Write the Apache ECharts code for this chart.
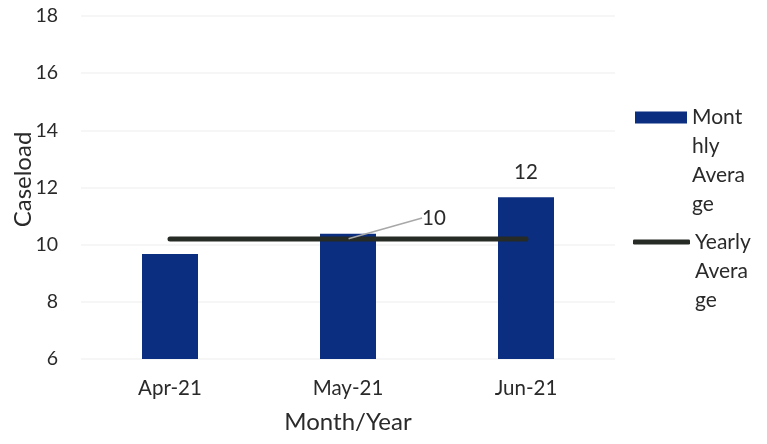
<!DOCTYPE html>
<html><head><meta charset="utf-8">
<script src="https://cdn.jsdelivr.net/npm/echarts@6/dist/echarts.min.js"></script>
<style>html,body{margin:0;padding:0;background:#fff}#c{width:767px;height:444px}</style>
</head><body><div id="c"></div>
<script>
const categories = ['Apr-21', 'May-21', 'Jun-21'];
const monthlyAverage = [9.67, 10.38, 11.66];
const yearlyAverage = [10.2, 10.2, 10.2];
const yTicks = [6, 8, 10, 12, 14, 16, 18];

const FONT = 'Lato';
const TXT = '#2a2a2a';
const chart = echarts.init(document.getElementById('c'));
chart.setOption({
  animation: false,
  textStyle: {fontFamily: FONT},
  grid: {left: 81, right: 152, top: 16, bottom: 85, containLabel: false, outerBoundsMode: 'none'},
  legend: [{
    left: 635, top: 16, padding: 0, orient: 'vertical',
    itemWidth: 52, itemHeight: 12,
    data: [{name: 'Monthly Average', icon: 'rect'}],
    formatter: () => '\n\n\nMont\nhly\nAvera\nge',
    textStyle: {fontFamily: FONT, fontSize: 21, color: TXT, lineHeight: 29}
  }, {
    left: 633, top: 169.5, padding: 0, orient: 'vertical',
    itemWidth: 57, itemHeight: 5,
    data: [{name: 'Yearly Average', icon: 'roundRect'}],
    formatter: () => '\n\nYearly\nAvera\nge',
    textStyle: {fontFamily: FONT, fontSize: 21, color: TXT, lineHeight: 29}
  }],
  xAxis: {
    type: 'category', data: categories,
    axisLine: {show: false}, axisTick: {show: false},
    axisLabel: {fontSize: 20.5, color: TXT, margin: 19, fontFamily: FONT},
    name: 'Month/Year', nameLocation: 'middle', nameGap: 51, nameMoveOverlap: false,
    nameTextStyle: {fontSize: 24, color: TXT, fontFamily: FONT}
  },
  yAxis: {
    type: 'value', min: yTicks[0], max: yTicks[yTicks.length - 1], interval: 2,
    axisLine: {show: false}, axisTick: {show: false},
    splitLine: {lineStyle: {color: '#f3f3f3', width: 1.5}},
    axisLabel: {fontSize: 19.5, color: TXT, margin: 23, fontFamily: FONT},
    name: 'Caseload', nameLocation: 'middle', nameGap: 46, nameRotate: 90, nameMoveOverlap: false,
    nameTextStyle: {fontSize: 24, color: TXT, fontFamily: FONT, padding: [0, 0, 0, 16]}
  },
  series: [{
    name: 'Monthly Average', type: 'bar', barWidth: 56,
    itemStyle: {color: '#0b2e80'},
    label: {show: false, position: 'top', distance: 14, fontSize: 20.5, color: TXT, fontFamily: FONT,
      formatter: p => Math.round(p.value)},
    data: monthlyAverage.map((v, i) => i === monthlyAverage.length - 1 ? {value: v, label: {show: true}} : v)
  }, {
    name: 'Yearly Average', type: 'line', symbol: 'none',
    lineStyle: {color: '#262b26', width: 5, cap: 'round'},
    itemStyle: {color: '#262b26'},
    label: {show: false, fontSize: 20.5, color: TXT, fontFamily: FONT, position: 'inside',
      formatter: p => Math.round(p.value)},
    labelLine: {show: true, lineStyle: {color: '#a8a8a8', width: 1.5}},
    labelLayout: p => p.dataIndex === 1 ? {dx: 86, dy: -21} : {},
    data: yearlyAverage.map((v, i) => i === 1 ? {value: v, symbol: 'circle', symbolSize: 1, label: {show: true}} : v)
  }]
});
</script></body></html>
